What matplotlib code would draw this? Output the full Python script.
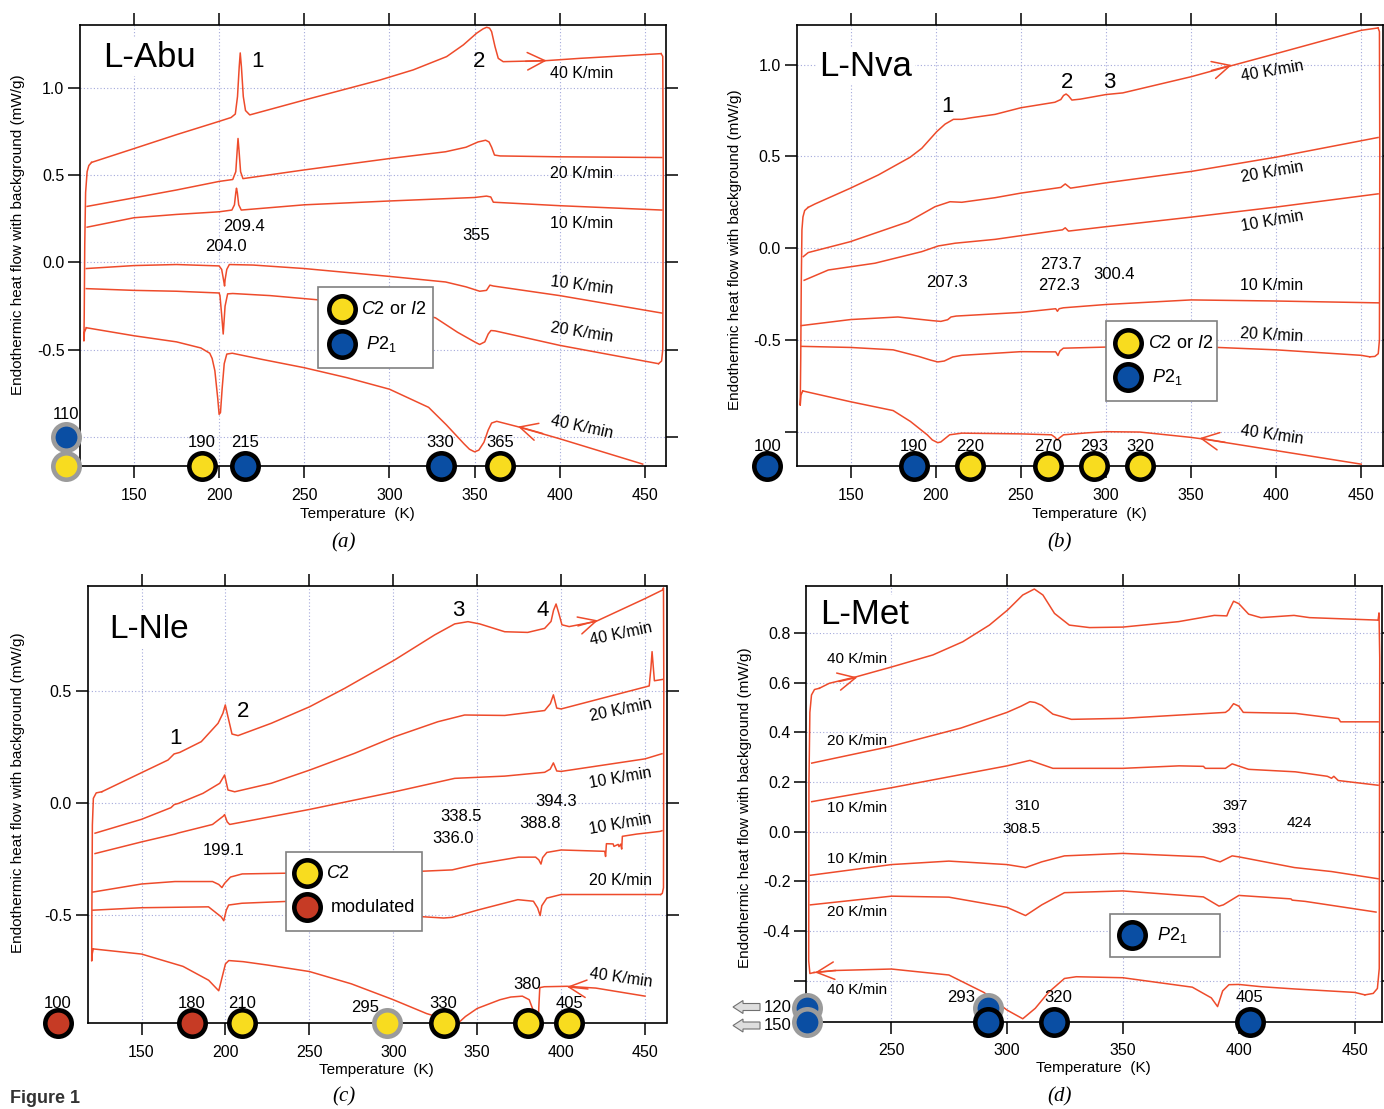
import matplotlib.pyplot as plt
from matplotlib.lines import Line2D
from matplotlib.patches import Rectangle, FancyArrow

plt.rcParams['font.family'] = ['Liberation Sans', 'DejaVu Sans']
plt.rcParams['mathtext.fontset'] = 'custom'
plt.rcParams['mathtext.rm'] = 'Liberation Sans'
plt.rcParams['mathtext.it'] = 'Liberation Sans:italic'

W, H = 1384, 1109
LINE = '#ee4b2b'
YEL = '#f8dc1f'
BLU = '#0a4ea3'
RED = '#c63b25'
GREY = '#9b9b9b'
GRID = '#a4a9db'

# ---------------- (a) L-Abu ----------------
abu_h40 = [(125.1, 0.573), (150, 0.652), (175, 0.732), (200, 0.808), (207, 0.83), (209.5, 0.85),
           (210.8, 0.95), (211.8, 1.12), (212.4, 1.20), (213.1, 1.12), (214.2, 0.95), (215.5, 0.87),
           (218, 0.845), (250, 0.93), (294.5, 1.045), (314, 1.103), (333.6, 1.179), (343.4, 1.246),
           (351.2, 1.313), (355, 1.338), (357.1, 1.347), (358.8, 1.342), (360, 1.322), (362, 1.236),
           (363.9, 1.169), (366.8, 1.15), (392.3, 1.156), (411.9, 1.169), (459.5, 1.196)]
abu_h20 = [(122.5, 0.321), (150, 0.37), (175, 0.415), (200, 0.464), (208, 0.475), (209.8, 0.52),
           (210.6, 0.64), (211.1, 0.71), (211.7, 0.64), (212.6, 0.52), (214, 0.48), (250, 0.53),
           (300, 0.595), (333, 0.634), (345, 0.66), (352, 0.69), (356.5, 0.70), (358.5, 0.69),
           (360, 0.66), (361.7, 0.615), (365, 0.61), (400, 0.605), (460, 0.601)]
abu_h10 = [(122.5, 0.202), (150, 0.256), (175, 0.275), (200, 0.29), (207.5, 0.30), (209, 0.33),
           (209.8, 0.40), (210.2, 0.425), (210.7, 0.40), (211.5, 0.33), (213, 0.30), (250, 0.33),
           (300, 0.352), (350, 0.372), (357, 0.38), (359.5, 0.375), (361, 0.345), (400, 0.325),
           (460, 0.30)]
abu_c10 = [(460, -0.29), (400, -0.19), (361, -0.135), (359, -0.13), (357, -0.16), (353, -0.165),
           (345, -0.14), (333, -0.112), (300, -0.08), (250, -0.035), (220, -0.015), (206, -0.012),
           (204.5, -0.04), (203.5, -0.10), (203.2, -0.135), (202.6, -0.10), (201.5, -0.04),
           (200, -0.02), (175, -0.012), (150, -0.018), (122, -0.035)]
abu_c20 = [(458, -0.58), (400, -0.475), (362, -0.392), (359.6, -0.39), (358, -0.41), (356, -0.455),
           (353, -0.47), (350, -0.455), (340, -0.40), (327, -0.317), (300, -0.26), (259, -0.215),
           (230, -0.19), (208, -0.178), (205, -0.18), (203.5, -0.25), (202.4, -0.41), (201.5, -0.30),
           (200.5, -0.19), (200, -0.175), (175, -0.165), (150, -0.16), (122, -0.15)]
abu_c40 = [(448.7, -1.155), (400, -1.01), (375, -0.94), (363, -0.91), (360, -0.92), (358, -0.96),
           (355.5, -1.03), (352.5, -1.075), (350, -1.085), (347, -1.07), (343.9, -1.04),
           (333.4, -0.93), (323, -0.83), (300, -0.726), (275, -0.66), (250, -0.603), (225, -0.555),
           (207.7, -0.52), (204.5, -0.525), (203, -0.58), (201.8, -0.72), (200.8, -0.86),
           (200, -0.87), (199.2, -0.78), (197.5, -0.62), (195.9, -0.55), (194.5, -0.52),
           (189.3, -0.49), (175, -0.455), (150, -0.42), (122, -0.374)]
abu_left = [(122, -0.374), (120.9, -0.40), (120.6, -0.45), (120.8, -0.3), (121.1, 0.1),
            (121.6, 0.4), (122.5, 0.52), (123.5, 0.555), (125.1, 0.573)]
abu_right = [(459.5, 1.196), (460.5, 1.18), (460.8, 0.5), (460.5, -0.5), (459.8, -0.565), (458, -0.58)]
abu_dot_T = [190, 215, 330, 365]
abu_dot_c = [YEL, BLU, BLU, YEL]

# ---------------- (b) L-Nva ----------------
nva_h40 = [(125, 0.222), (129.1, 0.241), (149.7, 0.326), (166.3, 0.399), (184.9, 0.495),
           (191.8, 0.544), (200.6, 0.635), (205.5, 0.676), (210.4, 0.702), (215.3, 0.702),
           (221.2, 0.711), (234.9, 0.729), (250, 0.765), (270, 0.795), (273.5, 0.81), (275.1, 0.832),
           (276.6, 0.84), (278, 0.83), (280, 0.807), (285, 0.812), (300, 0.837), (309.9, 0.846),
           (350, 0.934), (372.8, 0.992), (400, 1.06), (450, 1.187), (459.9, 1.20)]
nva_h20 = [(122.2, -0.046), (125.1, -0.024), (149.7, 0.035), (183.9, 0.144), (199.6, 0.226),
           (208.4, 0.253), (215.3, 0.25), (234.9, 0.275), (250, 0.30), (273.5, 0.331), (276.1, 0.35),
           (279.2, 0.327), (300, 0.356), (350, 0.418), (400, 0.496), (459.9, 0.603)]
nva_h10 = [(122.7, -0.175), (136.9, -0.119), (164.3, -0.082), (191.8, -0.019), (201.5, 0.012),
           (211.4, 0.027), (234.9, 0.048), (250, 0.068), (274.5, 0.10), (276.1, 0.111), (278, 0.093),
           (300, 0.117), (350, 0.169), (400, 0.224), (459.9, 0.296)]
nva_c10 = [(460, -0.298), (400, -0.288), (350, -0.282), (300, -0.307), (275, -0.325), (272.5, -0.33),
           (271.5, -0.344), (270.5, -0.33), (250, -0.35), (212, -0.37), (209, -0.375), (207, -0.39),
           (203, -0.399), (198, -0.395), (177.8, -0.375), (150, -0.389), (121, -0.422)]
nva_c20 = [(455, -0.592), (450, -0.584), (400, -0.554), (350, -0.535), (300, -0.539), (275, -0.545),
           (273, -0.56), (271.8, -0.585), (270.5, -0.565), (268, -0.565), (250, -0.564),
           (215.3, -0.584), (210, -0.593), (205, -0.615), (201.2, -0.62), (197, -0.61), (190, -0.59),
           (175, -0.554), (150, -0.541), (121, -0.535)]
nva_c40 = [(450, -1.177), (400, -1.103), (357.2, -1.04), (349.9, -1.031), (320, -1.002), (300, -1.0),
           (289.6, -1.006), (275.1, -1.017), (272.5, -1.035), (271.4, -1.045), (270, -1.03),
           (268, -1.017), (250.1, -1.012), (215.3, -1.008), (208.2, -1.017), (203, -1.056),
           (201.2, -1.06), (198, -1.045), (195, -1.017), (185.1, -0.944), (175, -0.885),
           (150, -0.837), (121.9, -0.778)]
nva_left = [(121.9, -0.778), (120.8, -0.80), (120.4, -0.856), (120.7, -0.6), (121.0, -0.2),
            (121.4, 0.1), (122, 0.17), (123, 0.205), (125, 0.222)]
nva_right = [(459.9, 1.20), (460.7, 1.18), (460.9, 0.5), (460.7, -0.5), (460, -0.575), (458, -0.59),
             (455, -0.592)]
nva_dot_T = [101, 187, 220, 266, 293, 320]
nva_dot_lab = ['100', '190', '220', '270', '293', '320']
nva_dot_c = [BLU, BLU, YEL, YEL, YEL, YEL]

# ---------------- (c) L-Nle ----------------
nle_h40 = [(126.3, 0.049), (149.9, 0.134), (165.8, 0.191), (169.4, 0.218), (172.8, 0.225),
           (185.6, 0.273), (195.6, 0.355), (198.5, 0.40), (199.9, 0.437), (201.5, 0.384),
           (203.9, 0.307), (207.5, 0.30), (227.3, 0.355), (250.2, 0.429), (271, 0.511), (300.8, 0.638),
           (324.7, 0.75), (336.6, 0.799), (344.5, 0.809), (351.5, 0.799), (366.4, 0.764),
           (380.1, 0.761), (390.2, 0.779), (394, 0.81), (395.5, 0.86), (397, 0.888), (398.5, 0.85),
           (400.5, 0.795), (404.8, 0.787), (420.7, 0.81), (450, 0.912), (460.6, 0.951)]
nle_h20 = [(122.3, -0.136), (150, -0.074), (167.5, -0.022), (169.5, -0.008), (172, -0.003),
           (186.6, 0.042), (196.6, 0.087), (199.5, 0.124), (201.5, 0.057), (205.5, 0.049),
           (227.3, 0.087), (250.2, 0.146), (277, 0.221), (300.8, 0.295), (326.6, 0.362),
           (342.5, 0.392), (366.4, 0.39), (390.2, 0.412), (393.6, 0.443), (395.4, 0.482),
           (397.4, 0.423), (400, 0.419), (451, 0.519), (452.5, 0.522), (453.5, 0.60), (454.2, 0.675),
           (455, 0.6), (455.6, 0.545), (460.5, 0.551)]
nle_h10 = [(122.3, -0.227), (150, -0.175), (169.9, -0.14), (172, -0.135), (192.3, -0.097),
           (198.7, -0.06), (199.5, -0.053), (201, -0.085), (202.5, -0.097), (250, -0.03),
           (277, 0.012), (300.8, 0.049), (336.6, 0.109), (366.4, 0.119), (390.2, 0.136),
           (393.5, 0.15), (395.4, 0.178), (397.4, 0.142), (400, 0.14), (450, 0.196), (460.1, 0.219)]
nle_c10 = [(460.1, -0.125), (458.9, -0.128), (445, -0.14), (436.5, -0.150), (436.1, -0.207),
           (435.5, -0.185), (434.5, -0.196), (434, -0.186), (431.5, -0.195), (431, -0.184),
           (427, -0.183), (426.5, -0.24), (426, -0.217), (400, -0.211), (391.5, -0.222), (389, -0.245),
           (388, -0.274), (386.7, -0.255), (384.8, -0.243), (374.7, -0.243), (350, -0.274),
           (335.1, -0.30), (317, -0.306), (300, -0.308), (250, -0.313), (210, -0.318), (203, -0.332),
           (199.5, -0.36), (197.9, -0.379), (196, -0.365), (192.3, -0.352), (169.9, -0.352),
           (150, -0.363), (121, -0.399)]
nle_c20 = [(459.3, -0.41), (400, -0.41), (391.5, -0.426), (388.5, -0.46), (387.5, -0.504),
           (386, -0.47), (383.5, -0.44), (374.2, -0.433), (350, -0.48), (335.1, -0.512), (330, -0.515),
           (317, -0.509), (290, -0.48), (260, -0.455), (235.9, -0.441), (209.8, -0.449),
           (201.9, -0.457), (200.5, -0.48), (199, -0.527), (197.5, -0.51), (189.9, -0.465),
           (150, -0.469), (121, -0.48)]
nle_c40 = [(450, -0.864), (420.7, -0.828), (403.5, -0.82), (390, -0.822), (387.3, -0.826),
           (386.8, -0.90), (386.4, -0.97), (385, -0.975), (383.5, -0.93), (381, -0.88), (376.9, -0.864),
           (370, -0.868), (363.6, -0.88), (350, -0.919), (343, -0.955), (339.6, -0.978),
           (335.1, -0.981), (330, -0.965), (319.9, -0.942), (300, -0.88), (275, -0.809), (250, -0.754),
           (225, -0.725), (210.6, -0.71), (202, -0.705), (200, -0.72), (198, -0.78), (196, -0.84),
           (194.7, -0.83), (190, -0.793), (174.7, -0.731), (150, -0.676), (121.2, -0.653)]
nle_left = [(121.2, -0.653), (120.5, -0.68), (120.3, -0.707), (120.4, -0.5), (120.7, -0.1),
            (121.3, 0.02), (123, 0.044), (126.3, 0.049)]
nle_right = [(460.6, 0.951), (461, 0.96), (461.2, 0.5), (461, -0.38), (460.3, -0.405), (459.3, -0.41)]
nle_dot_T = [100, 180, 210, 330, 380, 405]
nle_dot_c = [RED, RED, YEL, YEL, YEL, YEL]
nle_lab_y = [-0.895, -0.895, -0.895, -0.895, -0.814, -0.895]

# ---------------- (d) L-Met ----------------
met_h40 = [(218.9, 0.577), (223.2, 0.597), (234.8, 0.623), (250.6, 0.664), (267.9, 0.711),
           (280.8, 0.764), (292.3, 0.831), (300.2, 0.892), (306.7, 0.952), (311.7, 0.976),
           (315.4, 0.952), (320.4, 0.878), (326.8, 0.831), (335.5, 0.821), (349.9, 0.823),
           (374, 0.845), (389.4, 0.87), (394.8, 0.868), (395.7, 0.889), (397.7, 0.927), (400, 0.917),
           (404.2, 0.875), (409.5, 0.861), (423.8, 0.87), (430.5, 0.861), (460.1, 0.851)]
met_h20 = [(215.6, 0.276), (250, 0.344), (280, 0.417), (299.9, 0.48), (306, 0.505), (309.8, 0.523),
           (312, 0.52), (314.9, 0.508), (319.7, 0.473), (327.7, 0.452), (349.9, 0.456), (394.2, 0.48),
           (395.7, 0.49), (397.7, 0.515), (400, 0.505), (401.9, 0.48), (424.4, 0.476), (439.1, 0.459),
           (443, 0.455), (443.9, 0.442), (460.1, 0.442)]
met_h10 = [(215.6, 0.121), (250, 0.177), (299.9, 0.265), (309.8, 0.287), (319.7, 0.255),
           (349.9, 0.255), (374.2, 0.265), (384.7, 0.263), (385.5, 0.255), (394.2, 0.255),
           (397.1, 0.273), (404.2, 0.251), (424.4, 0.241), (438.2, 0.223), (440, 0.215), (441, 0.223),
           (442.9, 0.206), (460.1, 0.187)]
met_c10 = [(460.1, -0.189), (440, -0.16), (424, -0.144), (400, -0.101), (397.1, -0.097),
           (391.9, -0.121), (384.7, -0.101), (349.9, -0.087), (324.7, -0.097), (314.9, -0.121),
           (307.9, -0.144), (299.9, -0.132), (274.8, -0.118), (250, -0.132), (215, -0.175)]
met_c20 = [(459.2, -0.323), (450, -0.31), (428.6, -0.28), (423, -0.275), (422.5, -0.27), (400, -0.256),
           (393.3, -0.294), (391.4, -0.299), (384.7, -0.262), (349.9, -0.238), (324.7, -0.245),
           (314.9, -0.294), (307.9, -0.337), (299.9, -0.304), (274.8, -0.263), (250, -0.259),
           (215, -0.294)]
met_c40 = [(454.4, -0.656), (450, -0.646), (423.8, -0.632), (409.5, -0.623), (400, -0.614),
           (395.7, -0.615), (393, -0.64), (390.8, -0.703), (388.1, -0.668), (379.9, -0.625),
           (349.9, -0.587), (329.8, -0.583), (324.7, -0.59), (317.8, -0.646), (312.1, -0.71),
           (306.7, -0.752), (299.9, -0.717), (289.9, -0.646), (274.8, -0.576), (250, -0.552),
           (225.2, -0.558), (216.6, -0.566)]
met_left = [(216.6, -0.566), (214.8, -0.57), (214.3, -0.52), (214.4, 0.2), (214.8, 0.48), (215.5, 0.55),
            (216.8, 0.572), (218.9, 0.577)]
met_right = [(460.1, 0.851), (460.5, 0.88), (460.8, 0.7), (460.6, -0.55), (459.8, -0.63), (458, -0.65),
             (454.4, -0.656)]
met_dot_T = [291.5, 320.1, 404.7]
met_lab_T = [280, 322, 404.7]
met_lab = ['293', '320', '405']


def px(x, y):
    return x / W, 1 - y / H


def rect(l, t, r, b):
    return [l / W, 1 - b / H, (r - l) / W, (b - t) / H]


def setup(ax, xlim, ylim, xticks, yticks, ylabels):
    ax.set_xlim(xlim)
    ax.set_ylim(ylim)
    ax.set_xticks(xticks)
    ax.set_yticks(yticks)
    ax.set_yticklabels(ylabels)
    ax.tick_params(direction='out', length=8.5, width=1.1, labelsize=11.5,
                   top=True, right=True, labeltop=False, labelright=False)
    ax.tick_params(axis='x', pad=7)
    ax.tick_params(axis='y', pad=3)
    ax.grid(True, color=GRID, ls=(0, (1, 2)), lw=0.8)
    for s in ax.spines.values():
        s.set_linewidth(1.2)


def curves(ax, lines):
    for pts in lines:
        T, v = zip(*pts)
        ax.plot(T, v, color=LINE, lw=1.1, solid_joinstyle='round', zorder=3)


def dot(ax, t, y, face, edge='black'):
    ax.plot(t, y, 'o', ms=19, mfc=face, mec=edge, mew=3.3, clip_on=False, zorder=6)


def head(ax, tip, tail):
    ax.annotate('', xy=tip, xytext=tail,
                arrowprops=dict(arrowstyle='->,head_length=0.9,head_width=0.45', color=LINE,
                                lw=1.1, shrinkA=0, shrinkB=0, mutation_scale=14))


def key(l, t, r, b, items):
    fig.add_artist(Rectangle(px(l, b), (r - l) / W, (b - t) / H, transform=fig.transFigure,
                             fc='white', ec='#808080', lw=1.2, zorder=10))
    for cx, cy, face, tx, label in items:
        fig.add_artist(Line2D([cx / W], [1 - cy / H], marker='o', ms=19, mfc=face, mec='black',
                              mew=3.3, transform=fig.transFigure, zorder=11))
        fig.text(tx / W, 1 - cy / H, label, fontsize=13, va='center', ha='left', zorder=12)


def rates(ax, T, items, size=11.5):
    for label, y, rot in items:
        ax.text(T, y, label, fontsize=size, ha='center', va='center', rotation=rot, zorder=4)


fig = plt.figure(figsize=(W / 100, H / 100), dpi=100)
title_box = dict(fc='white', ec='none', pad=2)

# (a)
ax = fig.add_axes(rect(80.4, 25, 666, 466))
setup(ax, (118.55, 462.4), (-1.166, 1.36), range(150, 451, 50),
      [-1.0, -0.5, 0.0, 0.5, 1.0], ['', '-0.5', '0.0', '0.5', '1.0'])
curves(ax, [abu_h40, abu_h20, abu_h10, abu_c10, abu_c20, abu_c40, abu_left, abu_right])
head(ax, (392.3, 1.156), (380, 1.152))
head(ax, (375.5, -0.94), (390, -0.98))
ax.text(131.7, 1.176, 'L-Abu', fontsize=25, ha='left', va='center', bbox=title_box, zorder=4)
ax.text(222.8, 1.15, '1', fontsize=16, ha='center', va='center')
ax.text(352.6, 1.15, '2', fontsize=16, ha='center', va='center')
rates(ax, 413, [('40 K/min', 1.084, 0), ('20 K/min', 0.511, 0), ('10 K/min', 0.225, 0),
                ('10 K/min', -0.133, -7), ('20 K/min', -0.40, -9), ('40 K/min', -0.945, -12)])
for s, t, y in [('209.4', 214.7, 0.204), ('204.0', 204.2, 0.092), ('355', 351, 0.153)]:
    ax.text(t, y, s, fontsize=12, ha='center', va='center')
ymin = ax.get_ylim()[0]
dot(ax, 110, -1.0, BLU, GREY)
dot(ax, 110, ymin, YEL, GREY)
ax.text(110, -0.869, '110', fontsize=12, ha='center', va='center')
for t, c in zip(abu_dot_T, abu_dot_c):
    dot(ax, t, ymin, c)
    ax.text(t, -1.03, str(t), fontsize=12, ha='center', va='center')
key(318, 287, 433, 368, [(342, 309, YEL, 361, r'$\mathit{C}$2 or $\mathit{I}$2'),
                         (342, 344, BLU, 366, r'$\mathit{P}$2$_1$')])

# (b)
ax = fig.add_axes(rect(797, 25, 1382.5, 466))
setup(ax, (118.5, 462.5), (-1.187, 1.216), range(150, 451, 50),
      [-1.0, -0.5, 0.0, 0.5, 1.0], ['', '-0.5', '0.0', '0.5', '1.0'])
curves(ax, [nva_h40, nva_h20, nva_h10, nva_c10, nva_c20, nva_c40, nva_left, nva_right])
head(ax, (374, 0.998), (362, 0.968))
head(ax, (355, -1.035), (370, -1.058))
ax.text(131.5, 0.992, 'L-Nva', fontsize=25, ha='left', va='center', bbox=title_box, zorder=4)
for s, t, y in [('1', 207, 0.774), ('2', 277, 0.9), ('3', 301.8, 0.9)]:
    ax.text(t, y, s, fontsize=16, ha='center', va='center')
rates(ax, 397.5, [('40 K/min', 0.963, 10), ('20 K/min', 0.414, 10), ('10 K/min', 0.15, 10),
                  ('10 K/min', -0.204, 0), ('20 K/min', -0.473, -3), ('40 K/min', -1.017, -8)])
for s, t, y in [('207.3', 206.4, -0.185), ('273.7', 273.5, -0.088), ('272.3', 272.7, -0.204),
                ('300.4', 304.7, -0.146)]:
    ax.text(t, y, s, fontsize=12, ha='center', va='center')
ymin = ax.get_ylim()[0]
for t, c, s in zip(nva_dot_T, nva_dot_c, nva_dot_lab):
    dot(ax, t, ymin, c)
    ax.text(t, -1.08, s, fontsize=12, ha='center', va='center')
key(1106, 321, 1217, 401, [(1128, 343, YEL, 1148, r'$\mathit{C}$2 or $\mathit{I}$2'),
                           (1128, 377, BLU, 1152, r'$\mathit{P}$2$_1$')])

# (c)
ax = fig.add_axes(rect(88, 586.3, 666.5, 1023))
setup(ax, (118.1, 462.8), (-0.984, 0.967), range(150, 451, 50),
      [-0.5, 0.0, 0.5], ['-0.5', '0.0', '0.5'])
curves(ax, [nle_h40, nle_h20, nle_h10, nle_c10, nle_c20, nle_c40, nle_left, nle_right])
head(ax, (422, 0.815), (410, 0.79))
head(ax, (403.5, -0.822), (416, -0.832))
ax.text(130.9, 0.772, 'L-Nle', fontsize=24, ha='left', va='center', bbox=title_box, zorder=4)
for s, t, y in [('1', 170.2, 0.286), ('2', 210.6, 0.408), ('3', 338.8, 0.858), ('4', 388.8, 0.858)]:
    ax.text(t, y, s, fontsize=16, ha='center', va='center')
rates(ax, 435.4, [('40 K/min', 0.756, 12), ('20 K/min', 0.412, 12), ('10 K/min', 0.111, 10),
                  ('10 K/min', -0.097, 10), ('20 K/min', -0.347, 0), ('40 K/min', -0.781, -8)])
for s, t, y in [('338.5', 340.4, -0.063), ('336.0', 335.6, -0.16), ('394.3', 397.3, 0.005),
                ('388.8', 387.5, -0.092), ('199.1', 199.2, -0.214)]:
    ax.text(t, y, s, fontsize=12, ha='center', va='center')
ymin = ax.get_ylim()[0]
dot(ax, 296, ymin, YEL, GREY)
ax.text(283, -0.915, '295', fontsize=12, ha='center', va='center')
for t, c, ly in zip(nle_dot_T, nle_dot_c, nle_lab_y):
    dot(ax, t, ymin, c)
    ax.text(t, ly, str(t), fontsize=12, ha='center', va='center')
key(286, 852, 422, 931, [(307, 873, YEL, 326, r'$\mathit{C}$2'),
                         (307, 907, RED, 331, 'modulated')])

# (d)
ax = fig.add_axes(rect(806.4, 586.3, 1382.5, 1021.5))
setup(ax, (213.3, 462), (-0.763, 0.987), range(250, 451, 50),
      [-0.6, -0.4, -0.2, 0.0, 0.2, 0.4, 0.6, 0.8],
      ['', '-0.4', '-0.2', '0.0', '0.2', '0.4', '0.6', '0.8'])
curves(ax, [met_h40, met_h20, met_h10, met_c10, met_c20, met_c40, met_left, met_right])
head(ax, (235.3, 0.621), (227.3, 0.604))
head(ax, (217, -0.566), (226, -0.558))
ax.text(219.4, 0.875, 'L-Met', fontsize=25, ha='left', va='center', bbox=title_box, zorder=4)
rates(ax, 235.3, [('40 K/min', 0.694, 0), ('20 K/min', 0.365, 0), ('10 K/min', 0.096, 0),
                  ('10 K/min', -0.108, 0), ('20 K/min', -0.323, 0), ('40 K/min', -0.637, 0)], size=11)
for s, t, y in [('310', 308.6, 0.103), ('308.5', 306, 0.013), ('397', 398.4, 0.103),
                ('393', 393.6, 0.013), ('424', 426.1, 0.037)]:
    ax.text(t, y, s, fontsize=11, ha='center', va='center')
ymin = ax.get_ylim()[0]
dot(ax, 213.7, -0.708, BLU, GREY)
dot(ax, 213.7, ymin, BLU, GREY)
dot(ax, 291.5, -0.708, BLU, GREY)
for t in met_dot_T:
    dot(ax, t, ymin, BLU)
for t, s in zip(met_lab_T, met_lab):
    ax.text(t, -0.668, s, fontsize=12, ha='center', va='center')
key(1110, 914, 1220, 957, [(1132, 935, BLU, 1157, r'$\mathit{P}$2$_1$')])

# hollow arrows for the low-temperature points of L-Met
for y, s in [(1007, '120'), (1025.5, '150')]:
    fig.add_artist(FancyArrow(7.60, (H - y) / 100, -0.27, 0, width=0.07, head_width=0.13,
                              head_length=0.1, length_includes_head=True,
                              transform=fig.dpi_scale_trans, fc='#dedede', ec='#707070', lw=0.8))
    fig.text(764 / W, 1 - y / H, s, fontsize=12, ha='left', va='center')

# axis titles and panel captions
ylab = 'Endothermic heat flow with background (mW/g)'
for x, y in [(18, 235), (735, 250), (18, 793), (745, 808)]:
    fig.text(*px(x, y), ylab, rotation=90, fontsize=11, ha='center', va='center')
for x, y in [(357, 514), (1089, 514), (376, 1070), (1093, 1068)]:
    fig.text(*px(x, y), 'Temperature  (K)', fontsize=11, ha='center', va='center')
for x, y, s in [(344, 543, '(a)'), (1060, 543, '(b)'), (344, 1097, '(c)'), (1060, 1097, '(d)')]:
    fig.text(*px(x, y), s, fontsize=15, style='italic', family='Liberation Serif',
             ha='center', va='center')
fig.text(*px(10, 1107), 'Figure 1', fontsize=13, fontweight='bold', color='#333333',
         ha='left', va='bottom')

fig.savefig('out.png', dpi=100, facecolor='white')
